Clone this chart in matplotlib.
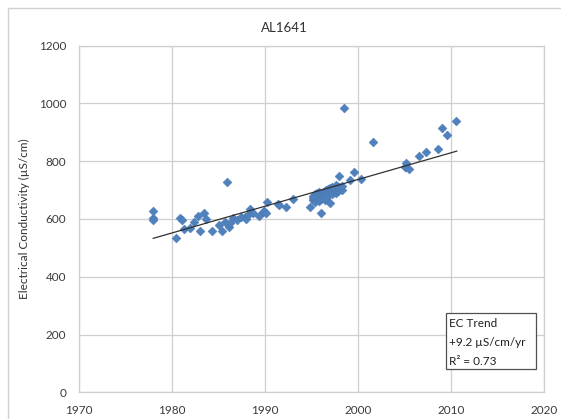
import numpy as np
import matplotlib
matplotlib.use("Agg")
import matplotlib.pyplot as plt
from matplotlib.patches import Rectangle
from matplotlib.lines import Line2D

plt.rcParams["font.family"] = ["Lato", "DejaVu Sans"]

# ---------------------------------------------------------------------------
# Data
# ---------------------------------------------------------------------------
years = [
    1978.0, 1978.0, 1978.0,
    1980.4, 1980.9, 1981.1, 1981.3, 1982.0, 1982.4, 1982.8, 1983.0, 1983.5,
    1983.7, 1984.3, 1985.1, 1985.4, 1985.9, 1985.7, 1986.1, 1986.3, 1986.6,
    1987.0, 1987.4, 1987.9, 1988.0, 1988.2, 1988.4, 1988.5, 1988.7, 1989.4,
    1989.8, 1989.9, 1990.1, 1990.2, 1991.4, 1991.5, 1992.3, 1993.0, 1994.8,
    1995.2, 1995.2, 1995.2, 1995.4, 1995.4, 1995.4, 1995.6, 1995.6, 1995.6,
    1995.8, 1995.8, 1995.8, 1996.0, 1996.0, 1996.0, 1996.0, 1996.2, 1996.2,
    1996.2, 1996.4, 1996.4, 1996.4, 1996.6, 1996.6, 1996.6, 1996.8, 1996.8,
    1996.8, 1997.0, 1997.0, 1997.0, 1997.2, 1997.2, 1997.2, 1997.4, 1997.4,
    1997.6, 1997.6, 1997.6, 1997.8, 1997.8, 1998.0, 1998.0, 1998.0, 1998.3,
    1998.3, 1998.5, 1999.1, 1999.6, 2000.3, 2001.6,
    2005.0, 2005.2, 2005.2, 2005.5, 2006.5, 2007.3, 2008.6, 2009.0, 2009.6,
    2010.5,
]
ec_values = [
    628, 603, 596,
    533, 602, 598, 564, 568, 590, 610, 560, 621,
    599, 560, 579, 560, 729, 588, 573, 585, 602,
    597, 608, 606, 599, 614, 634, 625, 620, 610,
    625, 628, 620, 660, 652, 649, 641, 670, 643,
    665, 672, 680, 660, 685, 675, 668, 690, 678,
    672, 662, 695, 620, 680, 688, 670, 676, 692,
    684, 665, 698, 688, 680, 700, 672, 690, 705,
    684, 656, 695, 708, 688, 700, 712, 694, 706,
    690, 702, 716, 698, 710, 749, 704, 712, 700,
    715, 985, 736, 761, 740, 867,
    779, 793, 779, 772, 817, 833, 843, 916, 891,
    938,
]

# linear trend as drawn in the reference (start / end of the fitted line)
trend_years = [1978.0, 2010.6]
trend_values = [533, 835]

title = "AL1641"
y_label = "Electrical Conductivity (\u00b5S/cm)"
trend_lines = ["EC Trend", "+9.2 \u00b5S/cm/yr", "R\u00b2 = 0.73"]

x_ticks = [1970, 1980, 1990, 2000, 2010, 2020]
y_ticks = [0, 200, 400, 600, 800, 1000, 1200]

# ---------------------------------------------------------------------------
# Figure
# ---------------------------------------------------------------------------
W, H = 561, 419
fig = plt.figure(figsize=(W / 100, H / 100), dpi=100)

def px(x, y):
    # pixel position (from top-left) -> figure fraction
    return x / W, 1 - y / H

grid_col = "#CFCFCF"
text_col = "#3A3A3A"

left, right, top, bottom = 78.7, 544.3, 45.7, 392.3
ax = fig.add_axes([left / W, 1 - bottom / H, (right - left) / W, (bottom - top) / H])

ax.scatter(years, ec_values, marker="D", s=20, color="#4F81BD",
           edgecolors="#4A7AB5", linewidths=0.4, zorder=3)
ax.plot(trend_years, trend_values, color="#303030", linewidth=0.9, zorder=4)

ax.set_xlim(1970, 2020)
ax.set_ylim(0, 1200)
ax.set_xticks(x_ticks)
ax.set_yticks(y_ticks)
ax.tick_params(length=0, labelsize=8.5, labelcolor=text_col)
ax.tick_params(axis="x", pad=9)
ax.tick_params(axis="y", pad=9)
ax.grid(True, color=grid_col, linewidth=0.9)
ax.set_axisbelow(True)
for s in ax.spines.values():
    s.set_color(grid_col)
    s.set_linewidth(0.9)

# title and y label
fig.text(*px(284, 28), title, ha="center", va="center", fontsize=9.5, color="#303030")
fig.text(*px(24, 219), y_label, ha="center", va="center", rotation=90,
         fontsize=8.5, color="#303030")

# trend annotation box
x0, y0 = px(446, 369)
x1, y1 = px(536, 313)
fig.patches.append(Rectangle((x0, y0), x1 - x0, y1 - y0, transform=fig.transFigure,
                             facecolor="white", edgecolor="#505050", linewidth=0.9,
                             zorder=5))
for txt, yc in zip(trend_lines, [323, 342.5, 361]):
    fig.text(*px(449, yc), txt, ha="left", va="center", fontsize=8.5,
             color="#202020", zorder=6)

# outer chart border (left / top visible in the crop)
fig.lines.append(Line2D([7.5 / W, 7.5 / W], [0, 1 - 8 / H], transform=fig.transFigure,
                        color="#D0D0D0", linewidth=1.0))
fig.lines.append(Line2D([7.5 / W, 1], [1 - 8 / H, 1 - 8 / H], transform=fig.transFigure,
                        color="#D0D0D0", linewidth=1.0))

fig.savefig("out.png", dpi=100)
